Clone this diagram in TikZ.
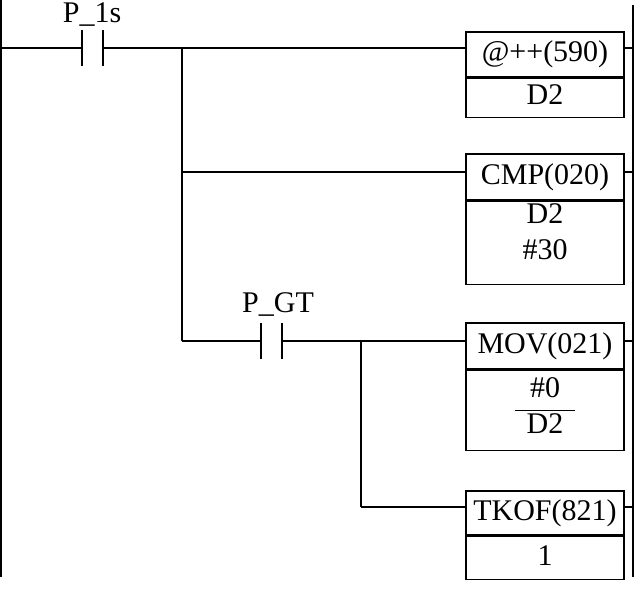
\documentclass[tikz,border=0pt]{standalone}
\usepackage{fontspec}
\setmainfont{Liberation Serif}
\usetikzlibrary{calc}

\begin{document}
\begin{tikzpicture}[x=1pt,y=-1pt,line width=1.6pt,
  font=\fontsize{30}{36}\selectfont,
  instr/.style={draw, minimum width=158pt, inner sep=0pt},
  txt/.style={inner sep=0pt},
  vert/.style={line width=1.2pt}]
% Diagrama de escalera: contador D2 y reinicio con P_GT
\useasboundingbox (0,0) rectangle (638,589);
\coordinate (L0) at (1,0);
\coordinate (L1) at (1,577);
\coordinate (R0) at (633,5);
\coordinate (R1) at (633,577);
\draw (L0) -- (L1);
\draw (R0) -- (R1);
% cajas
\node[instr, minimum height=45pt] (inc) at (545,54.5) {@++(590)};
\node[instr, minimum height=39pt, anchor=north] (incB) at (inc.south) {};
\node[txt] (incArg) at (545,95) {D2};
\node[instr, minimum height=46pt] (cmp) at (545,177) {CMP(020)};
\node[instr, minimum height=83pt, anchor=north] (cmpB) at (cmp.south) {};
\node[txt] (cmpArgA) at (545,214) {D2};
\node[txt] (cmpArgB) at (545,250) {\#30};
\node[instr, minimum height=46pt] (mov) at (545,346) {MOV(021)};
\node[instr, minimum height=80pt, anchor=north] (movB) at (mov.south) {};
\node[txt] (movArgA) at (545,388) {\#0};
\node[txt] (movArgB) at (545,424) {D2};
\draw ([xshift=-30pt]movB.center) -- ([xshift=30pt]movB.center);
\node[instr, minimum height=44pt] (tkof) at (545,513) {TKOF(821)};
\node[instr, minimum height=43pt, anchor=north] (tkofB) at (tkof.south) {};
\node[txt] (tkofArg) at (545,556) {1};
% contactos
\coordinate (c1a) at (82,48);
\coordinate (c1b) at (103,48);
\draw ([yshift=-18pt]c1a) -- ([yshift=18pt]c1a);
\draw ([yshift=-18pt]c1b) -- ([yshift=18pt]c1b);
\node[txt, anchor=base] (c1lbl) at (92,22) {P\_1s};
\coordinate (c2a) at (261,341);
\coordinate (c2b) at (282,341);
\draw ([yshift=-18pt]c2a) -- ([yshift=18pt]c2a);
\draw ([yshift=-18pt]c2b) -- ([yshift=18pt]c2b);
\node[txt, anchor=base] (c2lbl) at (278,312) {P\_GT};
% lineas
\coordinate (j1) at (182,48);
\coordinate (j2) at (182,172);
\coordinate (j3) at (182,341);
\coordinate (j4) at (361,341);
\coordinate (j5) at (361,507);
\draw (c1a -| L0) -- (c1a);
\draw (c1b) -- (j1) -- (j1 -| inc.west);
\draw (j2) -- (j2 -| cmp.west);
\draw (j3) -- (c2a);
\draw (c2b) -- (j4) -- (j4 -| mov.west);
\draw (j5) -- (j5 -| tkof.west);
\draw[vert] (j1) -- (j3);
\draw[vert] (j4) -- (j5);
\draw (j1 -| inc.east) -- (j1 -| R0);
\draw (j2 -| cmp.east) -- (j2 -| R0);
\draw (j4 -| mov.east) -- (j4 -| R0);
\draw (j5 -| tkof.east) -- (j5 -| R0);
\end{tikzpicture}
\end{document}
